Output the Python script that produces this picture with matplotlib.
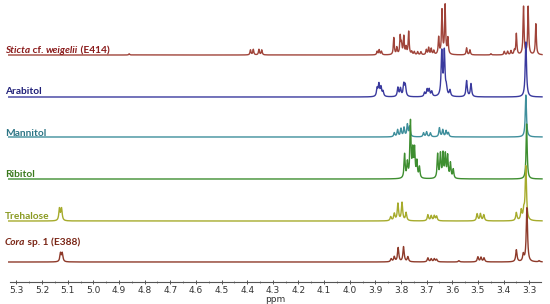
import numpy as np
import matplotlib
matplotlib.use("Agg")
import matplotlib.pyplot as plt
from matplotlib.ticker import MultipleLocator
from matplotlib import font_manager

# ---- data: peak lists (ppm, intensity) ----
sticta_ppm = [4.860, 4.387, 4.376, 4.354, 4.343, 3.893, 3.885, 3.876,
              3.828, 3.816, 3.803, 3.798, 3.789, 3.780, 3.770, 3.758, 3.748, 3.735, 3.722,
              3.701, 3.692, 3.682, 3.672, 3.653, 3.640, 3.628, 3.617,
              3.544, 3.531, 3.449, 3.397, 3.384, 3.371, 3.358, 3.350, 3.322, 3.304, 3.274]
sticta_int = [1.2, 5, 5.5, 5.5, 5, 3.5, 5, 3.5,
              17, 7, 18, 10, 18, 7, 23, 3, 3, 3, 3,
              5, 7, 6, 4, 17, 44, 49, 16,
              7, 5, 1.2, 3.5, 3.5, 4, 4, 21, 48, 48, 31]

arabitol_ppm = [3.893, 3.886, 3.878, 3.870, 3.812, 3.802, 3.789, 3.783,
                3.708, 3.698, 3.690, 3.680, 3.641, 3.631, 3.623, 3.609,
                3.544, 3.527, 3.313]
arabitol_int = [8, 12, 9, 5, 9, 8, 12, 11,
                4, 7, 7, 5, 44, 44, 8, 6,
                16, 13, 55]

mannitol_ppm = [3.826, 3.813, 3.800, 3.788, 3.775, 3.766,
                3.712, 3.700, 3.685, 3.650, 3.637, 3.624, 3.615, 3.313]
mannitol_int = [4, 7, 8, 9, 12, 10,
                4, 5, 4, 9, 7, 6, 4, 42]

ribitol_ppm = [3.786, 3.775, 3.763, 3.754, 3.747, 3.738, 3.728,
               3.657, 3.646, 3.636, 3.627, 3.618, 3.607, 3.596, 3.310]
ribitol_int = [24, 15, 56, 26, 28, 16, 11,
               24, 24, 24, 23, 22, 15, 9, 55]

trehalose_ppm = [5.132, 5.124, 3.840, 3.826, 3.812, 3.796, 3.780,
                 3.695, 3.682, 3.670, 3.661, 3.503, 3.490, 3.477,
                 3.350, 3.331, 3.321, 3.313]
trehalose_int = [12, 12, 4, 7, 17, 18, 8,
                 6, 5, 5, 4.5, 7, 7, 6,
                 8, 10, 9, 54]

cora_ppm = [5.128, 5.121, 3.838, 3.826, 3.811, 3.790, 3.773,
            3.695, 3.682, 3.670, 3.661, 3.574, 3.500, 3.488, 3.476,
            3.350, 3.323, 3.309, 3.261]
cora_int = [8.5, 8.5, 3, 5, 14, 15, 5,
            4, 3, 3, 2.5, 1.3, 5, 4.5, 4,
            12, 7, 54, 1.2]

labels = ["Sticta cf. weigelii (E414)", "Arabitol", "Mannitol",
          "Ribitol", "Trehalose", "Cora sp. 1 (E388)"]
tick_values = [5.3, 5.2, 5.1, 5.0, 4.9, 4.8, 4.7, 4.6, 4.5, 4.4, 4.3, 4.2,
               4.1, 4.0, 3.9, 3.8, 3.7, 3.6, 3.5, 3.4, 3.3]

# ---- style ----
names = {f.name for f in font_manager.fontManager.ttflist}
label_font = "Liberation Sans Narrow" if "Liberation Sans Narrow" in names else "Lato"
label_size = 8 if label_font == "Liberation Sans Narrow" else 7.3

W, H = 550, 304
fig = plt.figure(figsize=(W / 100, H / 100), dpi=100)
ax = fig.add_axes([10 / W, 1 - 282 / H, 531 / W, 282 / H])
xmin, xmax = 5.325, 3.254
ax.set_xlim(xmin, xmax)
ax.set_ylim(0, 282)

x = np.linspace(3.25, 5.33, 12000)

def spectrum(ppm, inten, fwhm):
    g = fwhm / 2.0
    y = np.zeros_like(x)
    for p, h in zip(ppm, inten):
        y += h * g * g / ((x - p) ** 2 + g * g)
    return y

series = [
    (sticta_ppm, sticta_int, 0.0045, 55, "#a0443a", "#8b1c1c"),
    (arabitol_ppm, arabitol_int, 0.0060, 97, "#3a3a9e", "#1f1f78"),
    (mannitol_ppm, mannitol_int, 0.0055, 137, "#3f8f9c", "#2d7585"),
    (ribitol_ppm, ribitol_int, 0.0050, 179, "#3e8e30", "#3b7a1e"),
    (trehalose_ppm, trehalose_int, 0.0060, 221, "#a6ab2c", "#8a9a22"),
    (cora_ppm, cora_int, 0.0060, 262, "#8e3a2a", "#7a2616"),
]

label_y = [53, 94, 136, 177, 219, 245]

for (ppm, inten, fw, base, lc, tc) in series:
    y = spectrum(ppm, inten, fw)
    ax.plot(x, (282 - base) + y, color=lc, lw=1.0, clip_on=False)

def put_label(parts, ly, color):
    xpos = 5 / W
    for txt, style in parts:
        t = fig.text(xpos, 1 - ly / H, txt, color=color, fontsize=label_size,
                     fontweight="bold", fontstyle=style, family=label_font,
                     va="baseline", ha="left")
        fig.canvas.draw()
        bb = t.get_window_extent()
        xpos = bb.x1 / W

cols = [s[5] for s in series]
put_label([("Sticta", "italic"), (" cf. ", "normal"), ("weigelii", "italic"),
           (" (E414)", "normal")], label_y[0], cols[0])
put_label([(labels[1], "normal")], label_y[1], cols[1])
put_label([(labels[2], "normal")], label_y[2], cols[2])
put_label([(labels[3], "normal")], label_y[3], cols[3])
put_label([(labels[4], "normal")], label_y[4], cols[4])
put_label([("Cora", "italic"), (" sp. 1 (E388)", "normal")], label_y[5], cols[5])

for s in ["left", "right", "top"]:
    ax.spines[s].set_visible(False)
ax.spines["bottom"].set_color("#555555")
ax.spines["bottom"].set_linewidth(0.8)
ax.set_yticks([])
ax.set_xticks(tick_values)
ax.set_xticklabels([f"{v:.1f}" for v in tick_values])
ax.xaxis.set_minor_locator(MultipleLocator(0.05))
ax.tick_params(axis="x", which="major", direction="inout", length=3, width=0.7,
               colors="#555555", labelsize=6.5, labelcolor="#333333", pad=1.5)
ax.tick_params(axis="x", which="minor", direction="inout", length=2, width=0.5,
               colors="#555555")
ax.set_xlabel("ppm", fontsize=6.5, color="#333333", labelpad=0)

fig.savefig("out.png", dpi=100)
